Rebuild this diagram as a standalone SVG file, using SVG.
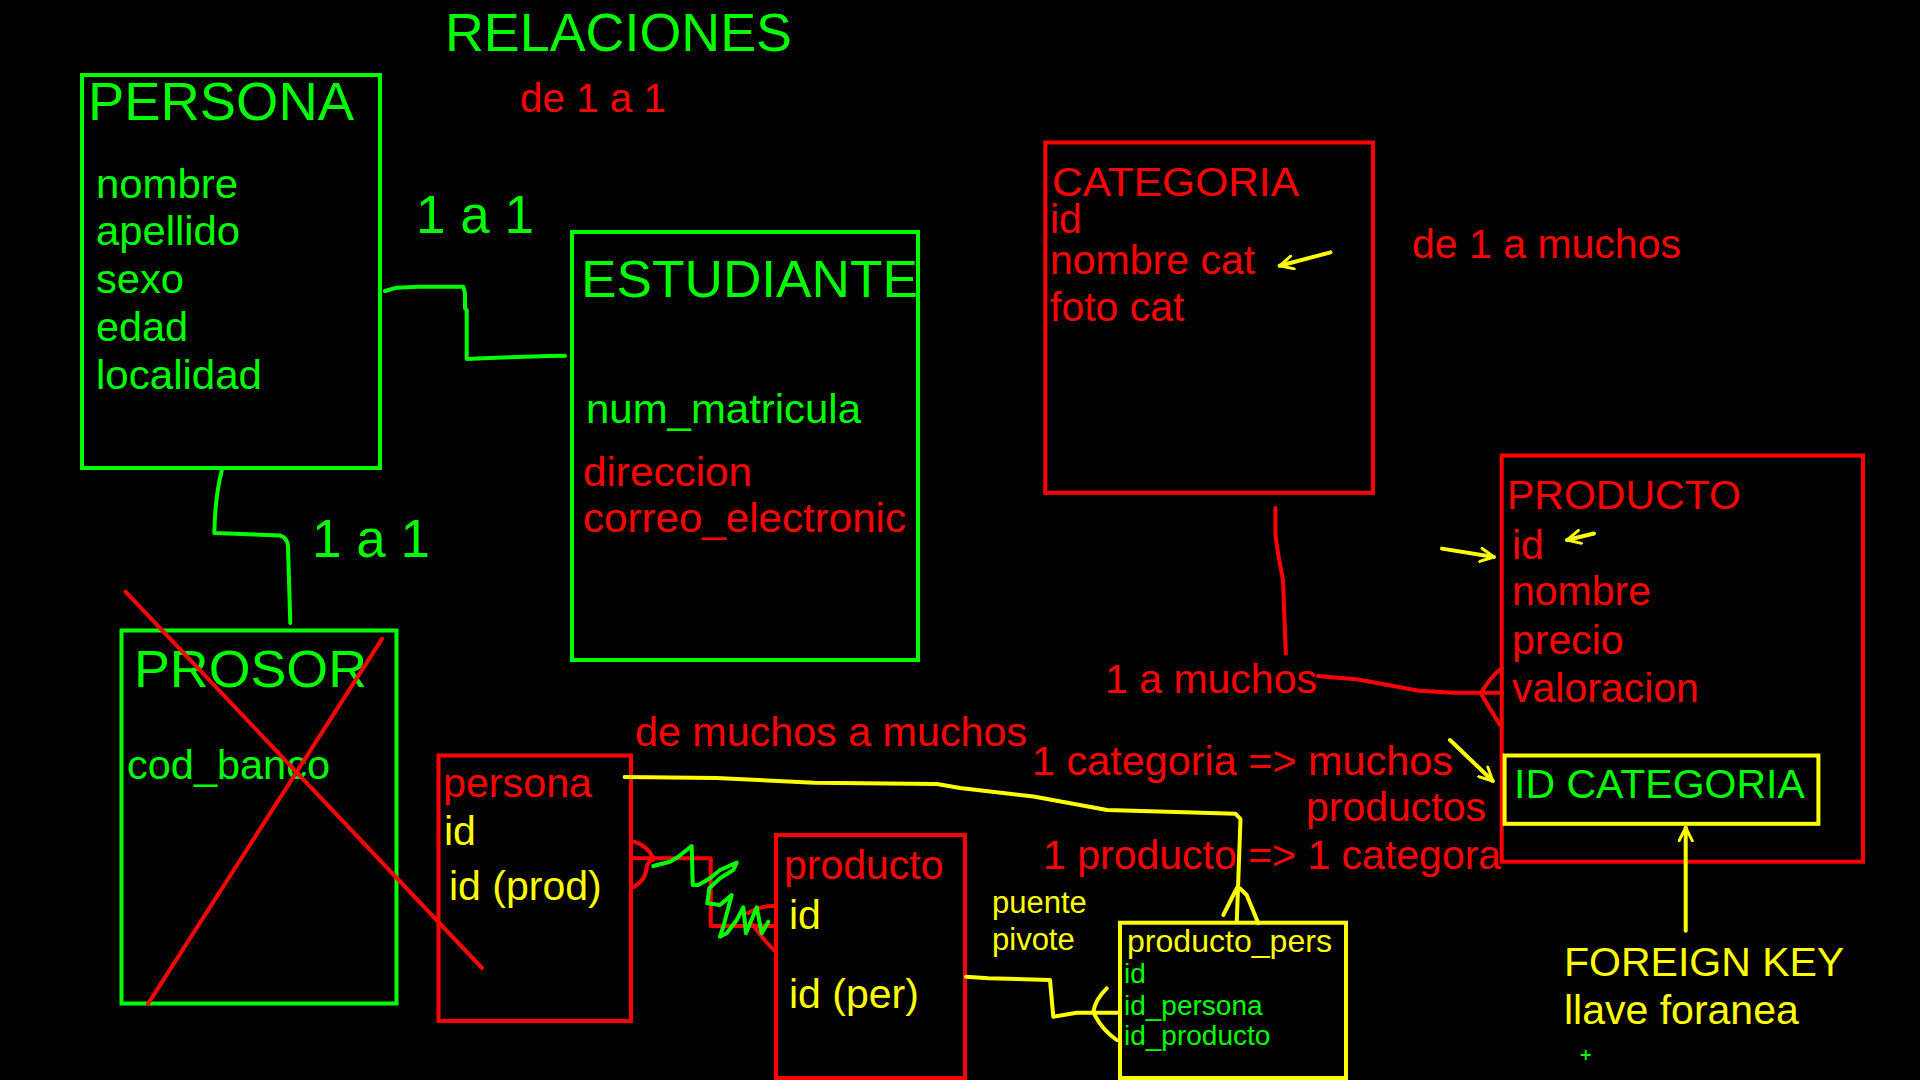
<svg xmlns="http://www.w3.org/2000/svg" width="1920" height="1080" viewBox="0 0 1920 1080">
<style>
text{font-family:"Liberation Sans",Arial,sans-serif}
.g{fill:#00ff00}.r{fill:#ff0000}.y{fill:#ffff00}
.bg{fill:none;stroke:#00ff00;stroke-width:4}
.br{fill:none;stroke:#ff0000;stroke-width:4}
.by{fill:none;stroke:#ffff00;stroke-width:4}
.lg{fill:none;stroke:#00ff00;stroke-width:4;stroke-linejoin:round;stroke-linecap:round}
.lr{fill:none;stroke:#ff0000;stroke-width:4;stroke-linejoin:round;stroke-linecap:round}
.ly{fill:none;stroke:#ffff00;stroke-width:4;stroke-linejoin:round;stroke-linecap:round}
.s53{font-size:53px}.s41{font-size:41px}.s40{font-size:40px}.s32{font-size:32px}.s31{font-size:31px}.s28{font-size:28px}
</style>
<defs>
<marker id="ah" viewBox="0 0 12 12" refX="11" refY="6" markerWidth="16" markerHeight="16" markerUnits="userSpaceOnUse" orient="auto">
<path d="M1,1 L11,6 L1,11" fill="none" stroke="#ffff00" stroke-width="2.2" stroke-linecap="round" stroke-linejoin="round"/>
</marker>
</defs>
<rect width="1920" height="1080" fill="#000"/>

<g id="titles">
<text class="g s53" x="445" y="51" textLength="347" lengthAdjust="spacingAndGlyphs">RELACIONES</text>
<text class="r s40" x="520" y="112" textLength="146" lengthAdjust="spacingAndGlyphs">de 1 a 1</text>
<text class="r s41" x="1412" y="258" textLength="269" lengthAdjust="spacingAndGlyphs">de 1 a muchos</text>
<text class="r s41" x="635" y="746" textLength="392" lengthAdjust="spacingAndGlyphs">de muchos a muchos</text>
</g>

<g id="persona-upper">
<rect class="bg" x="82" y="75" width="298" height="393"/>
<text class="g s53" x="88" y="119.5" textLength="266" lengthAdjust="spacingAndGlyphs">PERSONA</text>
<text class="g s40" x="96" y="198" textLength="142" lengthAdjust="spacingAndGlyphs">nombre</text>
<text class="g s40" x="96" y="245" textLength="144" lengthAdjust="spacingAndGlyphs">apellido</text>
<text class="g s40" x="96" y="293" textLength="88" lengthAdjust="spacingAndGlyphs">sexo</text>
<text class="g s40" x="96" y="341" textLength="92" lengthAdjust="spacingAndGlyphs">edad</text>
<text class="g s40" x="96" y="389" textLength="166" lengthAdjust="spacingAndGlyphs">localidad</text>
</g>

<g id="estudiante">
<rect class="bg" x="572" y="232" width="346" height="428"/>
<text class="g" style="font-size:52px" x="581" y="297" textLength="337" lengthAdjust="spacingAndGlyphs">ESTUDIANTE</text>
<text class="g s41" x="586" y="423" textLength="275" lengthAdjust="spacingAndGlyphs">num_matricula</text>
<text class="r s41" x="583" y="485.5" textLength="169" lengthAdjust="spacingAndGlyphs">direccion</text>
<text class="r s41" x="583" y="532" textLength="323" lengthAdjust="spacingAndGlyphs">correo_electronic</text>
</g>

<g id="prosor">
<rect class="bg" x="121.5" y="630.5" width="275" height="373"/>
<text class="g" style="font-size:52px" x="134" y="687.4" textLength="233" lengthAdjust="spacingAndGlyphs">PROSOR</text>
<text class="g s41" x="127" y="778.6" textLength="203" lengthAdjust="spacingAndGlyphs">cod_banco</text>
<line class="lr" x1="125.5" y1="591.7" x2="482" y2="968"/>
<line class="lr" x1="382" y1="638.8" x2="148" y2="1003.8"/>
</g>

<g id="persona">
<rect class="br" x="438.5" y="755.5" width="192.5" height="265.5"/>
<text class="r s41" x="443" y="796.5" textLength="149" lengthAdjust="spacingAndGlyphs">persona</text>
<text class="y s41" x="444" y="845">id</text>
<text class="y s41" x="449" y="900">id (prod)</text>
</g>

<g id="producto">
<rect class="br" x="776" y="835" width="189" height="243"/>
<text class="r s41" x="784" y="879">producto</text>
<text class="y s41" x="789" y="929">id</text>
<text class="y s41" x="789" y="1008">id (per)</text>
</g>

<g id="categoria">
<rect class="br" x="1045.3" y="142.5" width="327.7" height="350.3"/>
<text class="r s41" x="1052" y="196.3" textLength="247" lengthAdjust="spacingAndGlyphs">CATEGORIA</text>
<text class="r s41" x="1050" y="233">id</text>
<text class="r s41" x="1050" y="273.8">nombre cat</text>
<text class="r s41" x="1050" y="321">foto cat</text>
</g>

<g id="producto-upper">
<rect class="br" x="1501.7" y="455.5" width="361.3" height="406.2"/>
<text class="r s41" x="1507" y="509">PRODUCTO</text>
<text class="r s41" x="1512" y="559">id</text>
<text class="r s41" x="1512" y="605.4">nombre</text>
<text class="r s41" x="1512" y="653.6">precio</text>
<text class="r s41" x="1512" y="701.8">valoracion</text>
</g>

<g id="id-categoria">
<rect class="by" x="1504.6" y="755.5" width="313.8" height="68.3"/>
<text class="g s41" x="1514" y="798.3">ID CATEGORIA</text>
</g>

<g id="producto-pers">
<rect class="by" x="1120" y="922.7" width="226" height="155.3"/>
<text class="y s32" x="1127" y="951.7" textLength="205" lengthAdjust="spacingAndGlyphs">producto_pers</text>
<text class="g s28" x="1124" y="983.3">id</text>
<text class="g s28" x="1124" y="1015">id_persona</text>
<text class="g s28" x="1124" y="1045">id_producto</text>
</g>

<g id="labels">
<text class="g s53" x="416" y="233">1 a 1</text>
<text class="g s53" x="312" y="556.5">1 a 1</text>
<text class="r s41" x="1105" y="693">1 a muchos</text>
<text class="r s41" x="1032" y="775" textLength="421" lengthAdjust="spacingAndGlyphs">1 categoria =&gt; muchos</text>
<text class="r s41" x="1306" y="820.6">productos</text>
<text class="r s41" x="1043" y="869">1 producto =&gt; 1 categora</text>
<text class="y s31" x="992" y="913.3">puente</text>
<text class="y s31" x="992" y="950">pivote</text>
<text class="y s41" x="1564" y="975.6">FOREIGN KEY</text>
<text class="y s41" x="1564" y="1023.8">llave foranea</text>
<path d="M1580.7,1055 H1590.7 M1585.7,1050 V1060" stroke="#00ff00" stroke-width="2" fill="none"/>
</g>

<g id="connectors">
<polyline class="lg" points="385,291 396.7,287.7 418.3,286.7 463.3,286.7 465,293.3 465,308.3 466.7,310 466.7,359 483.3,358.3 510,357.3 548.3,356 565,355.7"/>
<path class="lg" d="M221.7,471 C218,485 215,505 214.3,533 L280,535.5 Q288,538 288,547 L290.3,623"/>
<polyline class="ly" points="624.6,777 716.5,778 814.5,782.8 937,784 960,788 1033.5,796.5 1107,810 1235.6,813.8 1240.5,819 1236.8,921"/>
<path class="ly" d="M1223.3,915 L1233.3,895 L1237,888 M1240,888.3 L1246.7,895 L1258.3,923.3"/>
<polyline class="ly" points="966,976.7 988.3,978.3 1050,980 1053.3,1016.7 1076.7,1012.7 1118,1012.7"/>
<path class="ly" d="M1106.7,988.3 Q1095,1000 1093.3,1011.7 Q1100,1028 1116.7,1040"/>
<path class="lr" d="M1275.4,508 L1275.4,535 Q1278,555 1283,580 L1285.8,653.6"/>
<path class="lr" d="M1318,676 L1358,679.5 L1419,690.8 L1453,692.7 L1501.7,692.7 M1481.7,691.7 Q1492,675 1501.7,668.3 M1481.7,695 L1500,725"/>
<path class="lr" d="M633,858.3 L710.7,858.3 L710.7,926 L776,926 M634,841.7 Q648,846 653,858 M634,886.7 Q646,880 646.7,866.7 Q648,861 653,860 M748,913 Q762,905 776,906 M753,925 Q766,943 776,952"/>
<polyline class="lg" points="653.3,866 670,861.7 678.3,856.7 691.7,846 692.7,885 698.3,885 710,878.3 720,870 736.7,862.7 733.3,870 720,878.3 709.3,888.3 707.3,903.3 720,905 731.7,895 723.3,926.7 720,936.7 726.7,933.3 736.7,920 743.3,907.3 746,933.3 756.7,907.3 761.7,933.3 768.3,921.7"/>
<line class="ly" x1="1330.5" y1="252.4" x2="1279.7" y2="265.8" marker-end="url(#ah)"/>
<line class="ly" x1="1442" y1="548.6" x2="1494" y2="557" marker-end="url(#ah)"/>
<line class="ly" x1="1594" y1="533.5" x2="1567" y2="540" marker-end="url(#ah)"/>
<line class="ly" x1="1450" y1="740" x2="1492.8" y2="781" marker-end="url(#ah)"/>
<line class="ly" x1="1685.7" y1="930.8" x2="1685.7" y2="827.5" marker-end="url(#ah)"/>
</g>
</svg>
